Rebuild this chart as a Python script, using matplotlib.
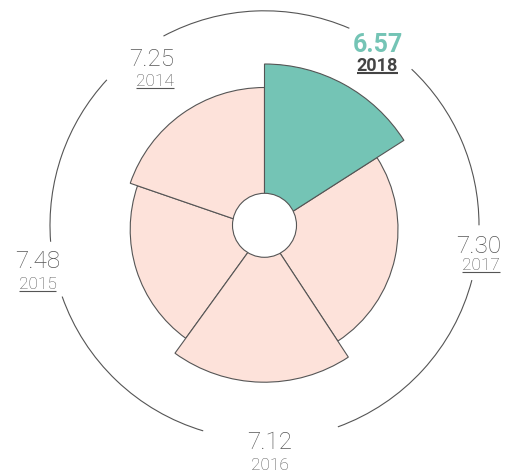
import matplotlib.pyplot as plt
from matplotlib.patches import Wedge, Circle, Arc

# data
years = ['2018', '2017', '2016', '2015', '2014']
values = [6.57, 7.30, 7.12, 7.48, 7.25]
# wedge extent, degrees clockwise from 12 o'clock, and wedge radius
start_deg = [0.0, 57.4, 146.7, 215.9, 289.0]
end_deg = [57.4, 146.7, 215.9, 289.0, 360.0]
radius = [165.5, 133.5, 152.7, 134.3, 142.0]
highlight = '2018'

# layout (pixel coordinates, y down)
center = (264.5, 229.5)
ring_center = (264.5, 225.3)
hole_r = 32
ring_r = 214.5
ring_segments = [(-28.1, 23.3), (43.3, 90.0), (104.8, 160.0), (196.6, 250.6), (265.6, 312.7)]
value_pos = {'2018': (378, 51.7), '2017': (479, 253.3), '2016': (270, 449.0),
             '2015': (37.8, 267.7), '2014': (151.7, 65.7)}
year_pos = {'2018': (377.3, 70.7), '2017': (481.3, 270), '2016': (270.3, 469.5),
            '2015': (37.5, 289.3), '2014': (155, 86)}
underlined = ['2018', '2017', '2015', '2014']

teal = '#74c4b5'
pink = '#fde2da'
edge = '#555555'
grey_text = '#555555'

fig = plt.figure(figsize=(5.14, 4.72), dpi=100)
ax = fig.add_axes([0, 0, 1, 1])
ax.set_xlim(0, 514)
ax.set_ylim(472, 0)
ax.axis('off')

# wedges, small ones first so bigger ones sit on top
order = sorted(range(len(years)), key=lambda i: radius[i])
for i in order:
    color = teal if years[i] == highlight else pink
    w = Wedge(center, radius[i], start_deg[i] - 90, end_deg[i] - 90,
              facecolor=color, edgecolor=edge, linewidth=0.8)
    ax.add_patch(w)

# white hole in the middle
ax.add_patch(Circle(ring_center, hole_r, facecolor='white', edgecolor=edge, linewidth=0.8, zorder=3))

# outer ring with gaps for the labels
for b1, b2 in ring_segments:
    ax.add_patch(Arc(ring_center, 2 * ring_r, 2 * ring_r, theta1=b1 - 90, theta2=b2 - 90,
                     color=edge, linewidth=0.8))

texts = []
for y, v in zip(years, values):
    if y == highlight:
        ax.text(*value_pos[y], f'{v:.2f}', ha='center', va='baseline', fontsize=18,
                fontweight='bold', color=teal, family=['Roboto', 'DejaVu Sans'])
        t = ax.text(*year_pos[y], y, ha='center', va='baseline', fontsize=13,
                    fontweight='bold', color='#444444', family=['Roboto', 'DejaVu Sans'])
        texts.append((t, '#444444', 1.5))
    else:
        ax.text(*value_pos[y], f'{v:.2f}', ha='center', va='baseline', fontsize=17.5,
                fontweight='light', color=grey_text, family=['Roboto', 'DejaVu Sans'])
        t = ax.text(*year_pos[y], y, ha='center', va='baseline', fontsize=12.5,
                    fontweight='light', color=grey_text, family=['Roboto', 'DejaVu Sans'])
        if y in underlined:
            texts.append((t, grey_text, 0.8))

# underline the year labels
fig.canvas.draw()
renderer = fig.canvas.get_renderer()
inv = ax.transData.inverted()
for t, c, lw in texts:
    bb = t.get_window_extent(renderer)
    x0, _ = inv.transform((bb.x0, bb.y0))
    x1, _ = inv.transform((bb.x1, bb.y0))
    yb = t.get_position()[1] + 2
    ax.plot([x0, x1], [yb, yb], color=c, linewidth=lw, solid_capstyle='butt')

plt.savefig('out.png', dpi=100)
